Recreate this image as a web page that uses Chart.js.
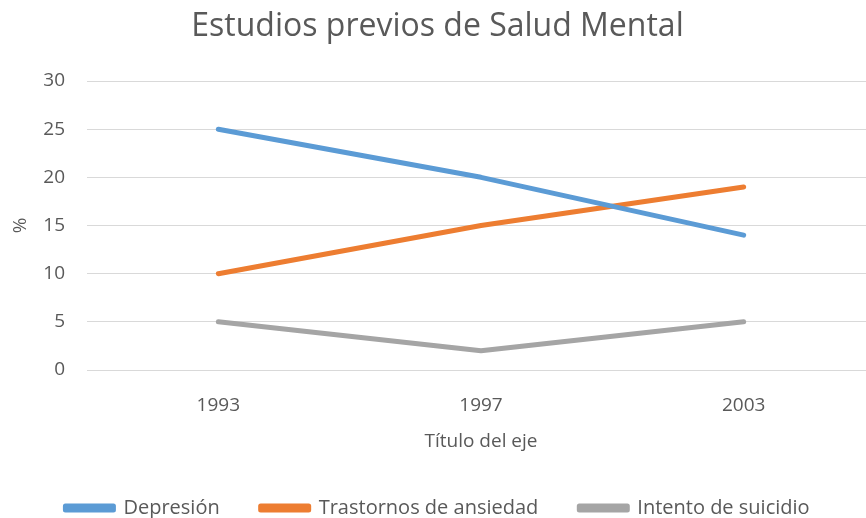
<!DOCTYPE html>
<html>
<head>
<meta charset="utf-8">
<script src="https://cdn.jsdelivr.net/npm/chart.js@4"></script>
<style>
html,body{margin:0;padding:0;background:#fff;overflow:hidden;width:866px;height:518px;}
#wrap{width:876px;height:518px;}
</style>
</head>
<body>
<div id="wrap"><canvas id="c" width="876" height="518"></canvas></div>
<script>
const categories = ['1993', '1997', '2003'];
const depresion = [25, 20, 14];
const ansiedad = [10, 15, 19];
const suicidio = [5, 2, 5];
const yTicks = [0, 5, 10, 15, 20, 25, 30];

const FONT = '"Open Sans", Carlito, Calibri, sans-serif';
const TXT = '#595959';

function ds(label, data, color) {
  return {
    label, data,
    borderColor: color, backgroundColor: color,
    borderWidth: 5, borderCapStyle: 'round', borderJoinStyle: 'round',
    pointRadius: 0, pointHoverRadius: 0, tension: 0, fill: false
  };
}

new Chart(document.getElementById('c'), {
  type: 'line',
  data: {
    labels: categories,
    datasets: [
      ds('Depresión', depresion, '#5B9BD5'),
      ds('Trastornos de ansiedad', ansiedad, '#ED7D31'),
      ds('Intento de suicidio', suicidio, '#A5A5A5')
    ]
  },
  options: {
    responsive: false,
    animation: false,
    layout: { padding: { top: 0, right: 1, bottom: -10, left: 0 } },
    plugins: {
      title: {
        display: true, text: 'Estudios previos de Salud Mental',
        color: TXT, font: { family: FONT, size: 32, weight: 'normal' },
        padding: { top: 8, bottom: 34.6 }
      },
      legend: {
        position: 'bottom',
        labels: {
          color: TXT, font: { family: FONT, size: 20 },
          boxWidth: 48, boxHeight: 4, padding: 41
        }
      },
      tooltip: { enabled: false }
    },
    scales: {
      x: {
        offset: true,
        afterFit: s => { s.height = 87; },
        grid: { display: false },
        border: { display: false },
        ticks: { color: TXT, font: { family: FONT, size: 19 }, padding: 16 },
        title: { display: true, text: 'Título del eje', color: TXT, font: { family: FONT, size: 19 }, padding: { top: 4, bottom: 4.5 } }
      },
      y: {
        min: 0, max: 30,
        afterFit: s => { s.width = 87; },
        afterBuildTicks: s => { s.ticks = yTicks.map(v => ({ value: v })); },
        grid: { color: '#D9D9D9', lineWidth: 1, drawTicks: false },
        border: { display: false },
        ticks: { color: TXT, font: { family: FONT, size: 19 }, padding: 22 },
        title: { display: true, text: '%', color: TXT, font: { family: FONT, size: 19 }, padding: { top: 9 } }
      }
    }
  }
});
</script>
</body>
</html>
